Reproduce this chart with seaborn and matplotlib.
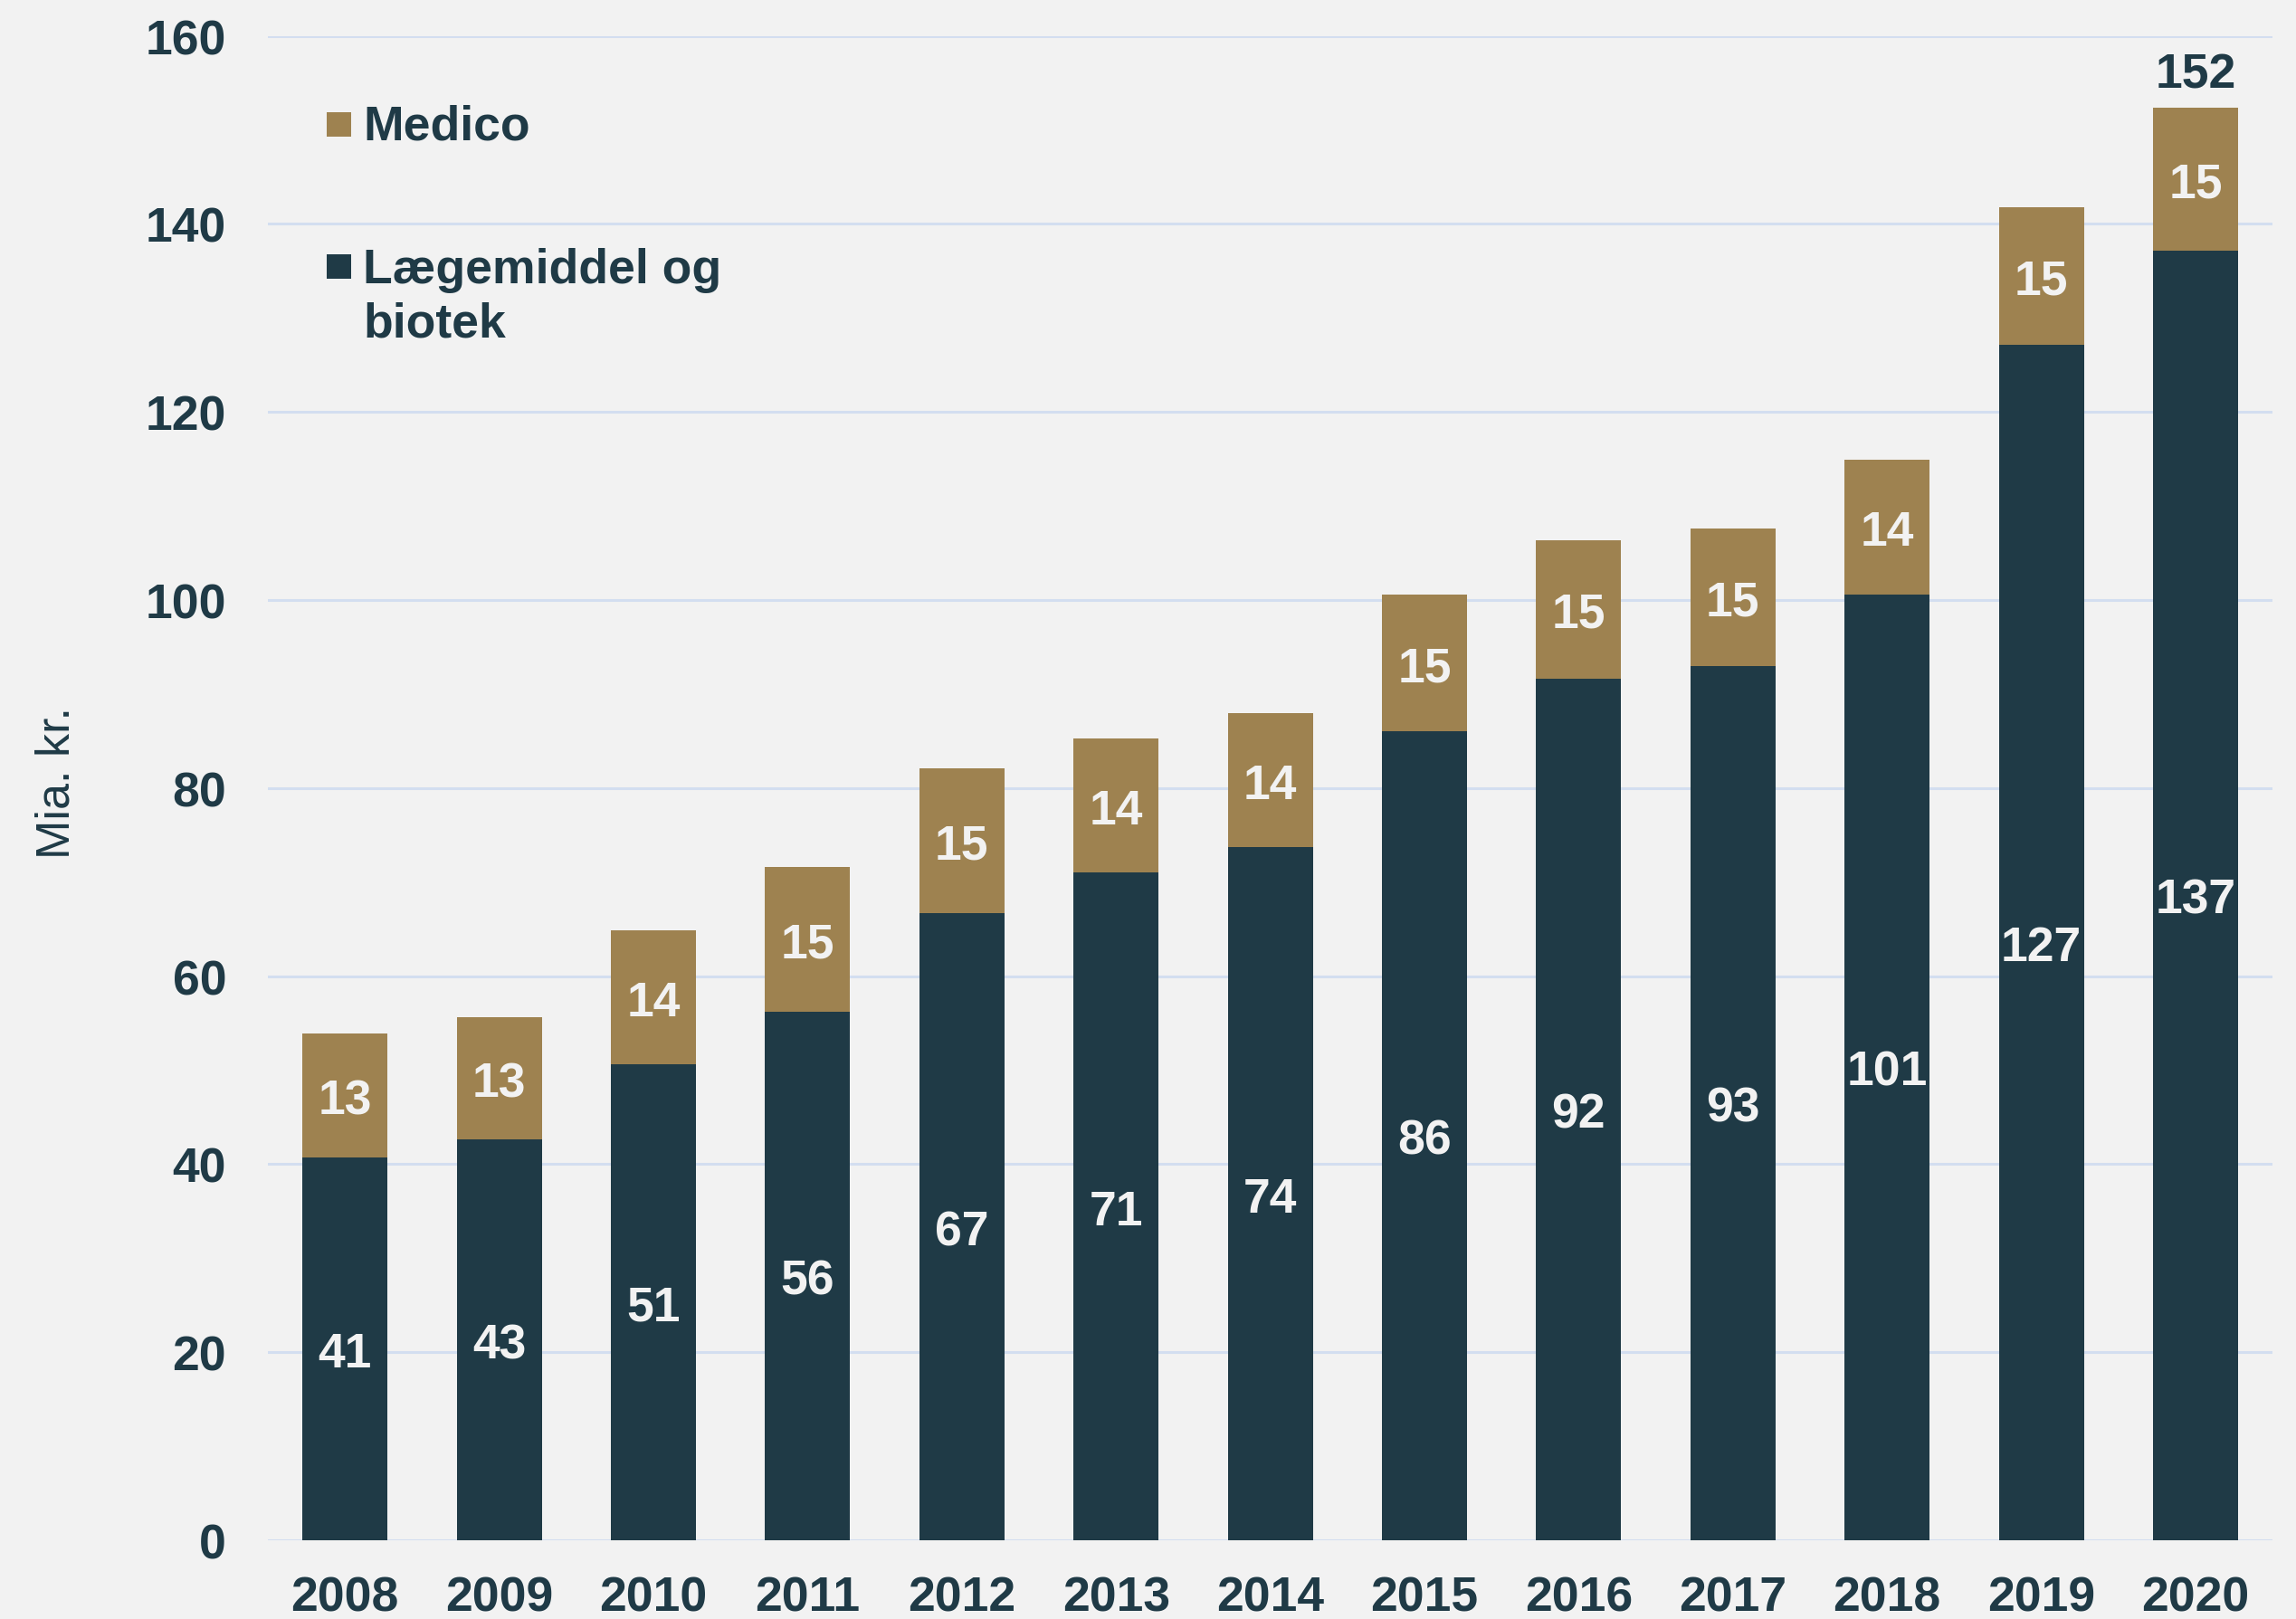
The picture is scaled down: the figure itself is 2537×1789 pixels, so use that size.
import matplotlib
matplotlib.use("Agg")
import matplotlib.pyplot as plt
import seaborn as sns
import pandas as pd
from matplotlib.patches import Rectangle

# ---- data ----
years = ["2008", "2009", "2010", "2011", "2012", "2013", "2014",
         "2015", "2016", "2017", "2018", "2019", "2020"]
laegemiddel = [40.7, 42.6, 50.6, 56.2, 66.7, 71.0, 73.7, 86.0, 91.6, 93.0, 100.6, 127.1, 137.2]
medico = [13.2, 13.0, 14.3, 15.4, 15.4, 14.3, 14.3, 14.6, 14.8, 14.6, 14.3, 14.7, 15.2]
series_names = ["Medico", "Lægemiddel og biotek"]
yticks = [0, 20, 40, 60, 80, 100, 120, 140, 160]
ylabel = "Mia. kr."

# ---- styling ----
BG = "#F2F2F2"
DARK = "#1F3A46"
GOLD = "#9E8250"
GRID = "#D3DEF0"
LABEL_LIGHT = "#F2F2F2"
FS = 38.5

sns.set_style("white")
plt.rcParams["font.family"] = ["Liberation Sans", "DejaVu Sans"]

df = pd.DataFrame({"year": years, "laeg": laegemiddel, "medico": medico})
df["total"] = df["laeg"] + df["medico"]

fig = plt.figure(figsize=(25.37, 17.90), dpi=100, facecolor=BG)
ax = fig.add_axes([0.1167, 0.0486, 0.9898 - 0.1167, 0.9773 - 0.0486])
ax.set_facecolor(BG)

sns.barplot(data=df, x="year", y="total", color=GOLD, saturation=1, width=0.552,
            ax=ax, zorder=3, linewidth=0)
sns.barplot(data=df, x="year", y="laeg", color=DARK, saturation=1, width=0.552,
            ax=ax, zorder=4, linewidth=0)

ax.set_xlim(-0.5, len(years) - 0.5)
ax.set_ylim(0, 160)
ax.set_yticks(yticks)
ax.yaxis.grid(True, color=GRID, linewidth=2.2, zorder=0)
ax.set_axisbelow(True)
for s in ax.spines.values():
    s.set_visible(False)

ax.tick_params(axis="both", length=0, labelsize=FS, labelcolor=DARK)
ax.tick_params(axis="y", pad=33)
ax.tick_params(axis="x", pad=28)
for lab in ax.get_xticklabels() + ax.get_yticklabels():
    lab.set_fontweight("bold")

ax.set_xlabel("")
ax.set_ylabel(ylabel, fontsize=37.5, color=DARK)
ax.yaxis.set_label_coords(-0.094, 0.504)

# data labels
for i, row in df.iterrows():
    ax.annotate(f"{row['laeg']:.0f}", xy=(i, row["laeg"] / 2), xytext=(0, -4),
                textcoords="offset points", ha="center", va="center",
                fontsize=FS, fontweight="bold", color=LABEL_LIGHT, zorder=6)
    ax.annotate(f"{row['medico']:.0f}", xy=(i, row["laeg"] + row["medico"] / 2),
                xytext=(0, -4), textcoords="offset points", ha="center",
                va="center", fontsize=FS, fontweight="bold", color=LABEL_LIGHT, zorder=6)

last = df.iloc[-1]
ax.annotate(f"{last['total']:.0f}", xy=(len(years) - 1, last["total"]),
            xytext=(0, 8), textcoords="offset points", ha="center", va="bottom",
            fontsize=FS, fontweight="bold", color=DARK)

# legend (manual)
sq_w, sq_h = 27 / 2215, 27 / 1662
ax.add_patch(Rectangle((0.0293, 0.9332), sq_w, sq_h, transform=ax.transAxes,
                       facecolor=GOLD, edgecolor="none", clip_on=False))
ax.add_patch(Rectangle((0.0293, 0.8388), sq_w, sq_h, transform=ax.transAxes,
                       facecolor=DARK, edgecolor="none", clip_on=False))
ax.text(0.0475, 0.9318, series_names[0], transform=ax.transAxes, ha="left",
        va="baseline", fontsize=FS, fontweight="bold", color=DARK)
ax.text(0.0475, 0.8363, "Lægemiddel og", transform=ax.transAxes, ha="left",
        va="baseline", fontsize=FS, fontweight="bold", color=DARK)
ax.text(0.0475, 0.8002, "biotek", transform=ax.transAxes, ha="left",
        va="baseline", fontsize=FS, fontweight="bold", color=DARK)

fig.savefig("out.png", dpi=100, facecolor=BG)
